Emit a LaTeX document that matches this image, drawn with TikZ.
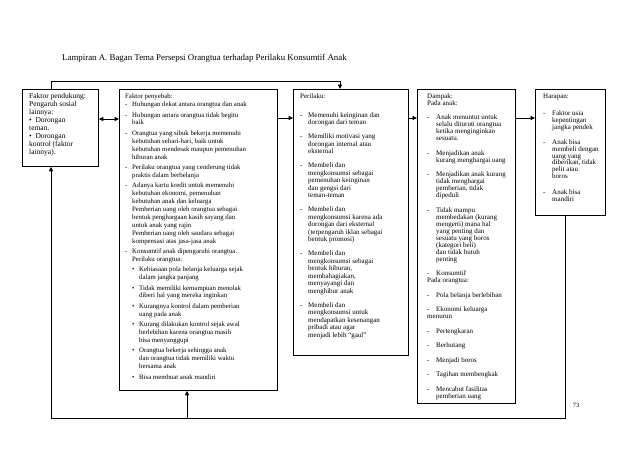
\documentclass[tikz,border=0pt]{standalone}
\usepackage{fontspec}
\setmainfont{Liberation Serif}
\usetikzlibrary{arrows.meta}
\newcommand\bl{\makebox[7pt][l]{\textbullet}}
\newcommand\ind{\hspace*{7pt}}
\begin{document}
\begin{tikzpicture}[x=1pt,y=-1pt,
  box/.style={draw, line width=0.8pt, anchor=north west, inner sep=0pt},
  txt/.style={anchor=north west, inner sep=0pt, align=left},
  arr/.style={line width=0.8pt, -{Triangle[length=4.5pt,width=4pt]}},
  darr/.style={line width=0.8pt, {Triangle[length=4.5pt,width=4pt]}-{Triangle[length=4.5pt,width=4pt]}},
  ln/.style={line width=0.8pt}]
\useasboundingbox (0,0) rectangle (640,451);
\fill[white] (0,0) rectangle (640,451);

\node[txt, font=\fontsize{8.85}{10}\selectfont, anchor=west] (title) at (62,58)
  {Lampiran A. Bagan Tema Persepsi Orangtua terhadap Perilaku Konsumtif Anak};

% boxes
\node[box, minimum width=76pt, minimum height=77pt] (b1) at (22,89) {};
\node[box, minimum width=158pt, minimum height=301pt] (b2) at (119,89) {};
\node[box, minimum width=115pt, minimum height=266pt] (b3) at (293,89) {};
\node[box, minimum width=98pt, minimum height=314pt] (b4) at (417,89) {};
\node[box, minimum width=70pt, minimum height=126pt] (b5) at (535,89) {};

% texts
\node[txt, font=\fontsize{7.5}{8}\selectfont] (t1) at (29,92.5) {\begin{tabular}{@{}l@{}}
Faktor pendukung:\\ Pengaruh sosial\\ lainnya:\\ \textbullet\enspace Dorongan\\ teman.\\
\textbullet\enspace Dorongan\\ kontrol (faktor\\ lainnya).
\end{tabular}};

\node[txt, font=\fontsize{6.8}{7.9}\selectfont] (t2) at (125,93) {\begin{tabular}{@{}p{7pt}@{}l@{}}
\multicolumn{2}{@{}l@{}}{Faktor penyebab:}\\
- & Hubungan dekat antara orangtua dan anak\\[2.5pt]
- & Hubungan antara orangtua tidak begitu\\
  & baik\\[2.5pt]
- & Orangtua yang sibuk bekerja memenuhi\\
  & kebutuhan sehari-hari, baik untuk\\
  & kebutuhan mendesak maupun pemenuhan\\
  & hiburan anak\\[2.5pt]
- & Perilaku orangtua yang cenderung tidak\\
  & praktis dalam berbelanja\\[2.5pt]
- & Adanya kartu kredit untuk memenuhi\\
  & kebutuhan ekonomi, pemenuhan\\
  & kebutuhan anak dan keluarga\\
  & Pemberian uang oleh orangtua sebagai\\
  & bentuk penghargaan kasih sayang dan\\
  & untuk anak yang rajin\\
  & Pemberian uang oleh saudara sebagai\\
  & kompensasi atas jasa-jasa anak\\[2.5pt]
- & Konsumtif anak dipengaruhi orangtua.\\
  & Perilaku orangtua:\\[2.5pt]
  & \bl Kebiasaan pola belanja keluarga sejak\\
  & \ind dalam jangka panjang\\[2.5pt]
  & \bl Tidak memiliki kemampuan menolak\\
  & \ind diberi hal yang mereka inginkan\\[2.5pt]
  & \bl Kurangnya kontrol dalam pemberian\\
  & \ind uang pada anak\\[2.5pt]
  & \bl Kurang dilakukan kontrol sejak awal\\
  & \ind berlebihan karena orangtua masih\\
  & \ind bisa menyanggupi\\[2.5pt]
  & \bl Orangtua bekerja sehingga anak\\
  & \ind dan orangtua tidak memiliki waktu\\
  & \ind bersama anak\\[2.5pt]
  & \bl Bisa membuat anak mandiri
\end{tabular}};

\node[txt, font=\fontsize{7}{7.5}\selectfont] (t3) at (300,93) {\begin{tabular}{@{}p{8pt}@{}l@{}}
\multicolumn{2}{@{}l@{}}{Perilaku:}\\[11.5pt]
- & Memenuhi keinginan dan\\
  & dorongan dari teman\\[6.5pt]
- & Memiliki motivasi yang\\
  & dorongan internal atau\\
  & eksternal\\[6.5pt]
- & Membeli dan\\
  & mengkonsumsi sebagai\\
  & pemenuhan keinginan\\
  & dan gengsi dari\\
  & teman-teman\\[6.5pt]
- & Membeli dan\\
  & mengkonsumsi karena ada\\
  & dorongan dari eksternal\\
  & (terpengaruh iklan sebagai\\
  & bentuk promosi)\\[6.5pt]
- & Membeli dan\\
  & mengkonsumsi sebagai\\
  & bentuk hiburan,\\
  & membahagiakan,\\
  & menyayangi dan\\
  & menghibur anak\\[6.5pt]
- & Membeli dan\\
  & mengkonsumsi untuk\\
  & mendapatkan kesenangan\\
  & pribadi atau agar\\
  & menjadi lebih ``gaul''
\end{tabular}};

\node[txt, font=\fontsize{7}{7}\selectfont] (t4) at (427,93) {\begin{tabular}{@{}p{9pt}@{}l@{}}
\multicolumn{2}{@{}l@{}}{Dampak:}\\
\multicolumn{2}{@{}l@{}}{Pada anak:}\\[7.5pt]
- & Anak menuntut untuk\\
  & selalu dituruti orangtua\\
  & ketika menginginkan\\
  & sesuatu.\\[7.5pt]
- & Menjadikan anak\\
  & kurang menghargai uang\\[7.5pt]
- & Menjadikan anak kurang\\
  & tidak menghargai\\
  & pemberian, tidak\\
  & dipeduli\\[7.5pt]
- & Tidak mampu\\
  & membedakan (kurang\\
  & mengerti) mana hal\\
  & yang penting dan\\
  & sesuatu yang boros\\
  & (kategori beli)\\
  & dan tidak butuh\\
  & penting\\[7.5pt]
- & Konsumtif\\
\multicolumn{2}{@{}l@{}}{Pada orangtua:}\\[7.5pt]
- & Pola belanja berlebihan\\[7.5pt]
- & Ekonomi keluarga\\
\multicolumn{2}{@{}l@{}}{menurun}\\[7.5pt]
- & Pertengkaran\\[7.5pt]
- & Berhutang\\[7.5pt]
- & Menjadi boros\\[7.5pt]
- & Tagihan membengkak\\[7.5pt]
- & Mencabut fasilitas\\
  & pemberian uang
\end{tabular}};

\node[txt, font=\fontsize{7}{6.6}\selectfont] (t5) at (543,93.5) {\begin{tabular}{@{}p{9pt}@{}l@{}}
\multicolumn{2}{@{}l@{}}{Harapan:}\\[10.5pt]
- & Faktor usia\\
  & kepentingan\\
  & jangka pendek\\[8.5pt]
- & Anak bisa\\
  & membeli dengan\\
  & uang yang\\
  & diberikan, tidak\\
  & pelit atau\\
  & boros\\[9.5pt]
- & Anak bisa\\
  & mandiri
\end{tabular}};

\node[txt, font=\fontsize{6.5}{7}\selectfont, anchor=center] (pg) at (576,405) {73};

% connectors
\coordinate (ya) at (0,118);
\coordinate (yb) at (0,119);
\draw[darr] (b1.east |- yb) -- (b2.west |- yb);
\draw[arr] (b2.east |- ya) -- (b3.west |- ya);
\draw[arr] (b3.east |- ya) -- (b4.west |- ya);
\draw[arr] (b4.east |- ya) -- (b5.west |- ya);

\coordinate (tl) at (51,81);
\coordinate (tr) at (340,81);
\draw[arr] (b1.north -| tl) -- (tl) -- (tr) -- (b3.north -| tr);

\coordinate (c5) at (565,418);
\coordinate (c1) at (51,418);
\coordinate (c2) at (187,418);
\draw[ln] (b5.south -| c5) -- (c5) -- (c1);
\draw[arr] (c1) -- (b1.south -| c1);
\draw[arr] (c2) -- (b2.south -| c2);
\end{tikzpicture}
\end{document}
